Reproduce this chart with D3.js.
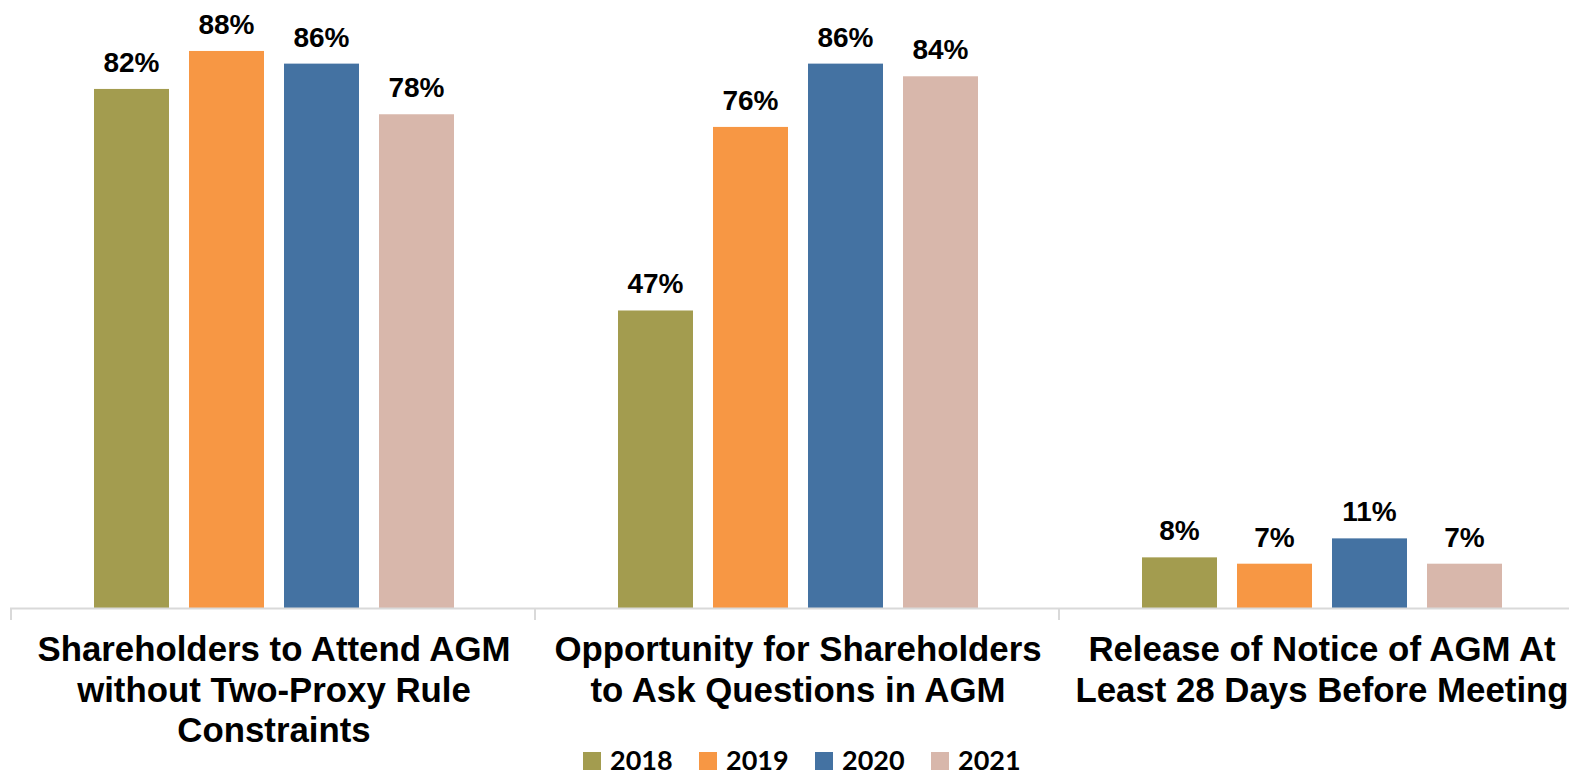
<!DOCTYPE html>
<html>
<head>
<meta charset="utf-8">
<script src="https://cdn.jsdelivr.net/npm/d3@7"></script>
<style>
  html, body { margin: 0; padding: 0; background: #fff; }
  svg { display: block; }
</style>
</head>
<body>
<svg id="chart" width="1569" height="776"></svg>
<script>
const categories = [
  ["Shareholders to Attend AGM", "without Two-Proxy Rule", "Constraints"],
  ["Opportunity for Shareholders", "to Ask Questions in AGM"],
  ["Release of Notice of AGM At", "Least 28 Days Before Meeting"]
];
const categoryKeys = ["attend", "questions", "notice"];
const years = ["2018", "2019", "2020", "2021"];
const values2018 = [82, 47, 8];
const values2019 = [88, 76, 7];
const values2020 = [86, 86, 11];
const values2021 = [78, 84, 7];
const colors = ["#A39C4F", "#F79744", "#4472A2", "#D8B7AB"];

const seriesValues = [values2018, values2019, values2020, values2021];

const svg = d3.select("#chart");
const baseline = 608;

const x0 = d3.scaleBand().domain(categoryKeys).range([12, 1584]).padding(0);
const x1 = d3.scaleBand().domain(years).range([0, x0.bandwidth()])
  .paddingInner(20 / 95).paddingOuter((x0.bandwidth() / 95 - 4 + 20 / 95) / 2);
const y = d3.scaleLinear().domain([0, 100]).range([baseline, -25]);
const color = d3.scaleOrdinal().domain(years).range(colors);

const data = [];
categoryKeys.forEach((c, ci) => {
  years.forEach((yr, si) => {
    data.push({ cat: c, year: yr, value: seriesValues[si][ci] });
  });
});

// bars
svg.append("g").selectAll("rect").data(data).join("rect")
  .attr("x", d => x0(d.cat) + x1(d.year))
  .attr("y", d => y(d.value))
  .attr("width", x1.bandwidth())
  .attr("height", d => baseline - y(d.value))
  .attr("fill", d => color(d.year));

// value labels
svg.append("g").selectAll("text").data(data).join("text")
  .attr("x", d => x0(d.cat) + x1(d.year) + x1.bandwidth() / 2)
  .attr("y", d => y(d.value) - 17)
  .attr("text-anchor", "middle")
  .attr("font-family", "Liberation Sans, Arial, sans-serif")
  .attr("font-weight", "bold")
  .attr("font-size", 28)
  .attr("fill", "#000")
  .text(d => d.value + "%");

// axis
const axisG = svg.append("g").attr("transform", `translate(0,${baseline})`);
axisG.append("line").attr("x1", 10).attr("x2", 1569).attr("y1", 0.5).attr("y2", 0.5)
  .attr("stroke", "#D9D9D9").attr("stroke-width", 2);
const boundaries = categoryKeys.map(c => x0(c) - 1);
axisG.selectAll("line.tk").data(boundaries).join("line").attr("class", "tk")
  .attr("x1", d => d).attr("x2", d => d).attr("y1", 0).attr("y2", 12)
  .attr("stroke", "#D9D9D9").attr("stroke-width", 2);

// category labels
const catG = svg.append("g");
categoryKeys.forEach((c, ci) => {
  const cx = x0(c) + x0.bandwidth() / 2;
  const t = catG.append("text")
    .attr("x", cx)
    .attr("y", 661)
    .attr("text-anchor", "middle")
    .attr("font-family", "Liberation Sans, Arial, sans-serif")
    .attr("font-weight", "bold")
    .attr("font-size", 34.8)
    .attr("fill", "#000");
  categories[ci].forEach((line, li) => {
    t.append("tspan").attr("x", cx)
      .attr("dy", li === 0 ? 0 : 40.5).text(line);
  });
});

// legend
const legendX = d3.scalePoint().domain(years).range([583, 931]);
const lg = svg.append("g").selectAll("g").data(years).join("g")
  .attr("transform", d => `translate(${legendX(d)},0)`);
lg.append("rect").attr("x", 0).attr("y", 752).attr("width", 18).attr("height", 18)
  .attr("fill", d => color(d));
lg.append("text").attr("x", 27).attr("y", 770)
  .attr("font-family", "Lato, Carlito, Calibri, sans-serif")
  .attr("font-weight", "bold")
  .attr("font-size", 27)
  .attr("fill", "#000")
  .text(d => d);
</script>
</body>
</html>
